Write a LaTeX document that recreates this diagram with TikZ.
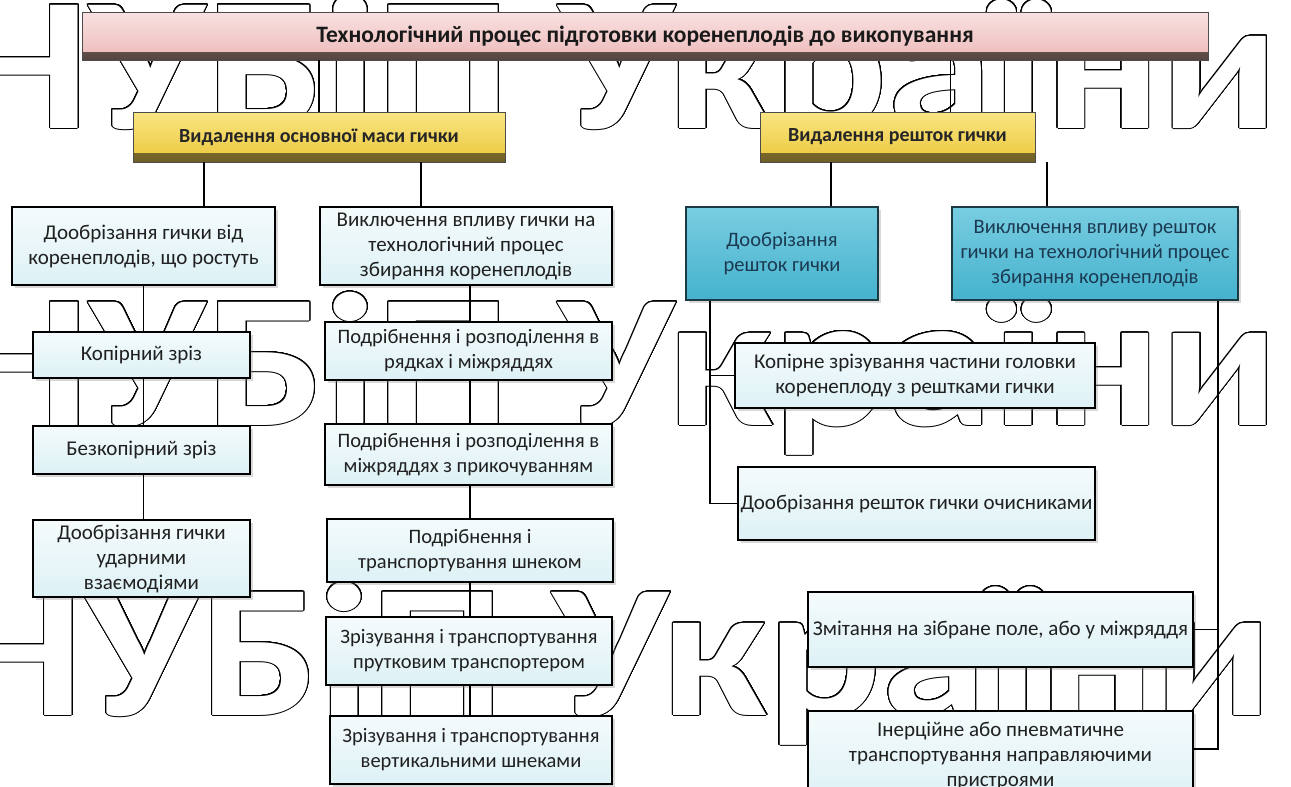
\documentclass[tikz,border=0pt]{standalone}
\usepackage{fontspec}
\setmainfont{Carlito}
\newfontfamily\wmfont{Carlito}[FakeStretch=1.12]
\usepackage{contour}
\usepackage{tikz}
\usetikzlibrary{shadows, calc}
\contourlength{1pt}
\contournumber{40}

\definecolor{pinklight}{HTML}{F9E1E1}
\definecolor{pinkmain}{HTML}{EDB9B9}
\definecolor{pinkbevel}{HTML}{54443F}
\definecolor{goldtop}{HTML}{F9E583}
\definecolor{goldbot}{HTML}{EBC73A}
\definecolor{goldbevel}{HTML}{6F5F27}
\definecolor{palecyan}{HTML}{DDF1F5}
\definecolor{cyantop}{HTML}{79CDE1}
\definecolor{cyanmain}{HTML}{45B2CD}
\definecolor{cyanedge}{HTML}{1C3A43}
\definecolor{navyink}{HTML}{1B3A52}
\definecolor{inkdark}{HTML}{202020}

\newcommand{\wmtext}{\contour{black}{\llap{НУ}БіП України}}

\begin{document}
\begin{tikzpicture}[x=1pt, y=-1pt,
    wh/.style 2 args={minimum width=#1pt, minimum height=#2pt},
    link/.style={line width=1.4pt, black},
    lbox/.style={draw=black, line width=2.3pt, top color=palecyan!30!white, bottom color=palecyan,
        text=inkdark, align=center, inner sep=1pt, font=\fontsize{21}{25}\selectfont,
        drop shadow={shadow xshift=3pt, shadow yshift=-3pt, opacity=.3}},
    pbox/.style={lbox, font=\fontsize{20.5}{25}\selectfont},
    cbox/.style={draw=cyanedge, line width=2.6pt, top color=cyantop, bottom color=cyanmain,
        text=navyink, align=center, inner sep=1pt, font=\fontsize{20.5}{25}\selectfont,
        drop shadow={shadow xshift=3pt, shadow yshift=-3pt, opacity=.3}},
    headbox/.style={draw=black!70, line width=.8pt, top color=goldtop, bottom color=goldbot,
        text=black!85, inner sep=1pt, font=\bfseries\fontsize{20}{24}\selectfont,
        path picture={\shade[top color=goldbevel!60!goldbot, bottom color=goldbevel]
            ([yshift=9pt]path picture bounding box.south west) rectangle (path picture bounding box.south east);}},
    titlebox/.style={draw=black!70, line width=.8pt, top color=pinklight, bottom color=pinkmain,
        text=black!90, inner sep=1pt, font=\bfseries\fontsize{23.5}{26}\selectfont,
        path picture={\shade[top color=pinkbevel!50!pinkmain, bottom color=pinkbevel]
            ([yshift=8pt]path picture bounding box.south west) rectangle (path picture bounding box.south east);}},
    wm/.style={inner sep=0pt, text=white, font=\wmfont\bfseries\fontsize{190}{190}\selectfont}
    ]
    % Page
    \useasboundingbox (0,0) rectangle (1291,787);
    \clip (0,0) rectangle (1291,787);
    \fill[white] (0,0) rectangle (1291,787);

    % Watermark
    \node[wm, anchor=base west] (wmA) at (206,128) {\wmtext};
    \node[wm, anchor=base west] (wmB) at (206,425) {\wmtext};
    \node[wm, anchor=base west] (wmC) at (200,715) {\wmtext};

    % Columns for connectors
    \coordinate (colA) at (204,0);
    \coordinate (colB) at (421,0);
    \coordinate (colM) at (470,0);
    \coordinate (colC) at (831,0);
    \coordinate (colD) at (1047,0);
    \coordinate (colR) at (710,0);
    \coordinate (colS) at (1218,0);

    % Headings
    \node[titlebox, wh={1126}{48}] (title) at (645,36) {Технологічний процес підготовки коренеплодів до викопування};
    \node[headbox, wh={372}{50}] (yL) at (319,137) {Видалення основної маси гички};
    \node[headbox, wh={275}{50}] (yR) at (897.5,137) {Видалення решток гички};

    % Left branch
    \node[lbox, wh={263}{78}] (b1) at (143.5,246) {Дообрізання гички від\\коренеплодів, що ростуть};
    \node[lbox, wh={217}{46}] (kop) at (141.5,355) {Копірний зріз};
    \node[lbox, wh={217}{48}] (bezk) at (141.5,450) {Безкопірний зріз};
    \node[lbox, wh={217}{77}] (udar) at (141.5,558.5) {Дообрізання гички\\ударними\\взаємодіями};

    \node[lbox, wh={292}{78}] (b2) at (466,246) {Виключення впливу гички на\\технологічний процес\\збирання коренеплодів};
    \node[pbox, wh={287}{58}] (p1) at (468.5,351) {Подрібнення і розподілення в\\рядках і міжряддях};
    \node[pbox, wh={287}{61}] (p2) at (468.5,454.5) {Подрібнення і розподілення в\\міжряддях з прикочуванням};
    \node[pbox, wh={286}{63}] (p3) at (470,550.5) {Подрібнення і\\транспортування шнеком};
    \node[pbox, wh={286}{68}] (p4) at (469,651) {Зрізування і транспортування\\прутковим транспортером};
    \node[pbox, wh={282}{68}] (p5) at (471,750) {Зрізування і транспортування\\вертикальними шнеками};

    % Right branch
    \node[cbox, wh={192}{93}] (c1) at (782,253.5) {Дообрізання\\решток гички};
    \node[cbox, wh={286}{93}] (c2) at (1095,253.5) {Виключення впливу решток\\гички на технологічний процес\\збирання коренеплодів};
    \node[lbox, wh={360}{65}] (kop2) at (915,375.5) {Копірне зрізування частини головки\\коренеплоду з рештками гички};
    \node[lbox, wh={357}{73}] (och) at (916.5,503.5) {Дообрізання решток гички очисниками};
    \node[lbox, wh={385}{75}] (zm) at (1000.5,629.5) {Змітання на зібране поле, або у міжряддя};
    \node[lbox, wh={385}{90}] (iner) at (1000.5,756) {Інерційне або пневматичне\\транспортування направляючими\\пристроями};

    % Connectors
    \draw[link] (title.south -| yL.north) -- (yL.north);
    \draw[link] (title.south -| c2.west) -- (yR.north -| c2.west);
    \draw[link] (yL.south -| colA) -- (b1.north -| colA);
    \draw[link] (yL.south -| colB) -- (b2.north -| colB);
    \draw[link] (yR.south -| colC) -- (c1.north -| colC);
    \draw[link] (yR.south -| colD) -- (c2.north -| colD);
    \foreach \a/\b in {b1/kop, kop/bezk, bezk/udar}
        \draw[link] (\a.south -| b1.south) -- (\b.north -| b1.south);
    \foreach \a/\b in {b2/p1, p1/p2, p2/p3, p3/p4, p4/p5}
        \draw[link] (\a.south -| colM) -- (\b.north -| colM);
    \draw[link] (c1.south -| colR) |- (och.west);
    \draw[link] (colR |- kop2.west) -- (kop2.west);
    \draw[link] (c2.south -| colS) |- ([yshift=7pt]iner.east);
    \draw[link] (colS |- zm.east) -- (zm.east);
\end{tikzpicture}
\end{document}
